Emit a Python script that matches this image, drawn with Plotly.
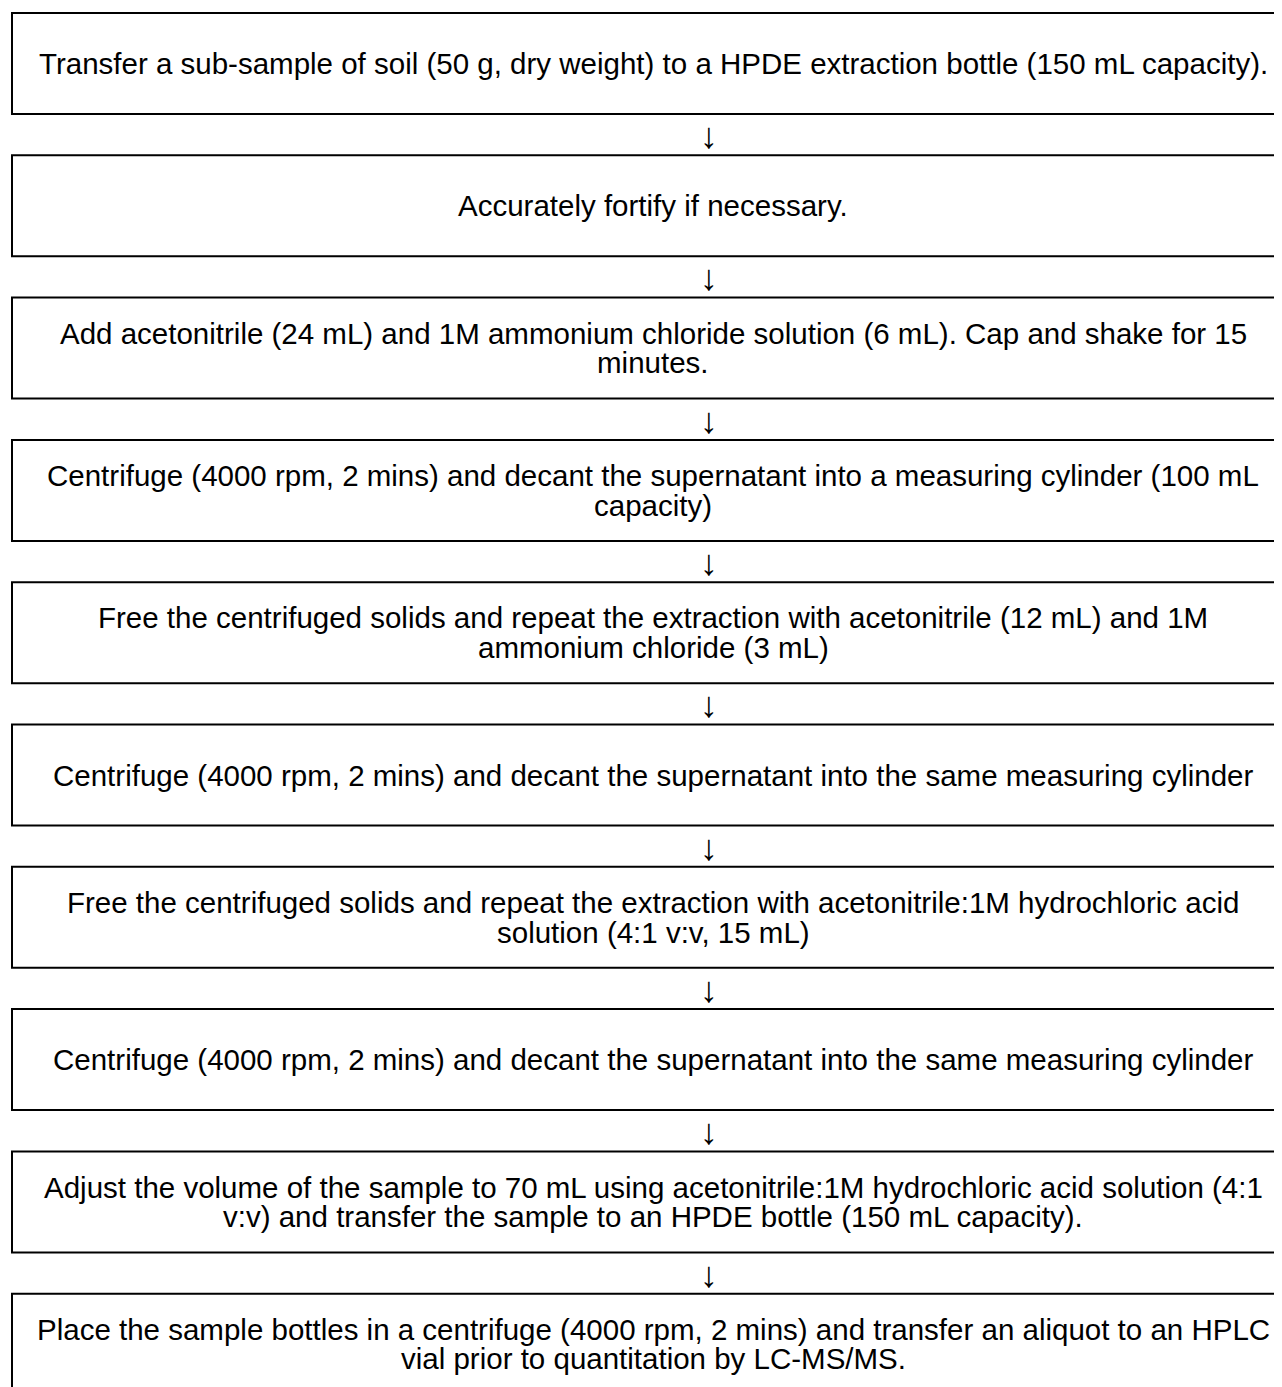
import plotly.graph_objects as go

steps = [
    "Transfer a sub-sample of soil (50 g, dry weight) to a HPDE extraction bottle (150 mL capacity).",
    "Accurately fortify if necessary.",
    "Add acetonitrile (24 mL) and 1M ammonium chloride solution (6 mL). Cap and shake for 15\nminutes.",
    "Centrifuge (4000 rpm, 2 mins) and decant the supernatant into a measuring cylinder (100 mL\ncapacity)",
    "Free the centrifuged solids and repeat the extraction with acetonitrile (12 mL) and 1M\nammonium chloride (3 mL)",
    "Centrifuge (4000 rpm, 2 mins) and decant the supernatant into the same measuring cylinder",
    "Free the centrifuged solids and repeat the extraction with acetonitrile:1M hydrochloric acid\nsolution (4:1 v:v, 15 mL)",
    "Centrifuge (4000 rpm, 2 mins) and decant the supernatant into the same measuring cylinder",
    "Adjust the volume of the sample to 70 mL using acetonitrile:1M hydrochloric acid solution (4:1\nv:v) and transfer the sample to an HPDE bottle (150 mL capacity).",
    "Place the sample bottles in a centrifuge (4000 rpm, 2 mins) and transfer an aliquot to an HPLC\nvial prior to quantitation by LC-MS/MS.",
]
arrow_symbol = "↓"

# page offset from default body margin
OFF = 8
VW, VH = 1282, 1387
W, H = VW - OFF, VH - OFF
top0 = 13.0
pitch = 142.3
box_h = 101.0
left, right = 12.0, 1300.0
text_cx = 653.0
arrow_x = 709.0
font_size = 29.5
arrow_size = 36
line_gap = 29.5

fig = go.Figure()
shapes = []
annotations = []
for i, s in enumerate(steps):
    y0 = top0 + i * pitch
    y1 = y0 + box_h
    shapes.append(dict(type="rect", xref="x", yref="y", x0=left, x1=right, y0=y0, y1=y1,
                       line=dict(color="black", width=2), fillcolor="rgba(0,0,0,0)"))
    lines = s.split("\n")
    cy = (y0 + y1) / 2
    n = len(lines)
    for j, ln in enumerate(lines):
        ly = cy + (j - (n - 1) / 2) * line_gap
        annotations.append(dict(x=text_cx, y=ly, xref="x", yref="y", text=ln, showarrow=False,
                                xanchor="center", yanchor="middle",
                                font=dict(family="Liberation Sans, Arial", size=font_size, color="black")))
    if i < len(steps) - 1:
        ay = y1 + (pitch - box_h) / 2 + 1
        annotations.append(dict(x=arrow_x, y=ay, xref="x", yref="y", text=arrow_symbol, showarrow=False,
                                xanchor="center", yanchor="middle",
                                font=dict(family="Liberation Sans, Arial", size=arrow_size, color="black")))

fig.update_layout(
    width=W, height=H,
    margin=dict(l=0, r=0, t=0, b=0),
    paper_bgcolor="white", plot_bgcolor="white",
    xaxis=dict(range=[OFF, OFF + W], visible=False, fixedrange=True),
    yaxis=dict(range=[OFF + H, OFF], visible=False, fixedrange=True),
    shapes=shapes, annotations=annotations, showlegend=False,
)
fig.write_html("out.html", config={"displayModeBar": False})
